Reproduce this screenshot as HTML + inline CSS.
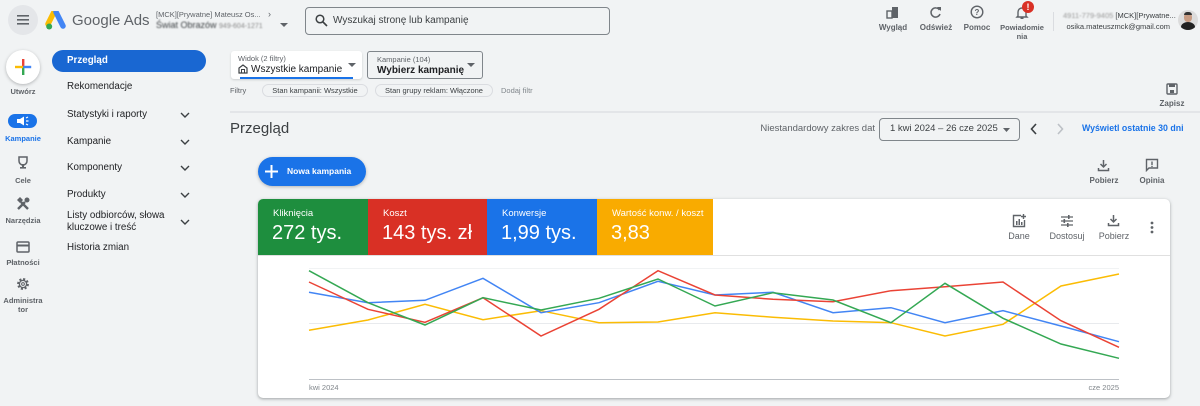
<!DOCTYPE html>
<html><head><meta charset="utf-8">
<style>
*{margin:0;padding:0;box-sizing:border-box}
html,body{width:1200px;height:406px;overflow:hidden;background:#f1f3f4;font-family:"Liberation Sans",Arial,sans-serif;color:#3c4043;position:relative}
.a{position:absolute;white-space:nowrap}
.nav{position:absolute;left:67px;font-size:9.8px;color:#202124;line-height:12px;white-space:nowrap}
.chev{position:absolute;left:180px;width:10px;height:10px}
.rl{position:absolute;left:0;width:46px;text-align:center;font-size:7.5px;font-weight:bold;color:#5f6368;line-height:9px}
.tl{position:absolute;width:50px;text-align:center;font-size:8px;color:#5f6368;line-height:9px;font-weight:bold}
.tile{position:absolute;top:199px;height:56px}
.tile .l{position:absolute;left:15px;top:9px;font-size:9.5px;color:#fff;line-height:11px}
.tile .v{position:absolute;left:14px;top:22px;font-size:20px;color:#fff;line-height:24px;white-space:nowrap}
</style></head><body>

<!-- header -->
<div class="a" style="left:8px;top:5px;width:30px;height:30px;border-radius:50%;background:#e4e6e9"></div>
<svg class="a" style="left:17px;top:15px" width="12" height="10"><rect y="0" width="12" height="1.6" fill="#5f6368"/><rect y="4" width="12" height="1.6" fill="#5f6368"/><rect y="8" width="12" height="1.6" fill="#5f6368"/></svg>
<svg class="a" style="left:45px;top:11px" width="22" height="20" viewBox="0 0 22 20">
<path d="M9 1 L3 13" stroke="#fbbc04" stroke-width="5.5" stroke-linecap="round"/>
<path d="M11 1 L18 15" stroke="#4285f4" stroke-width="5.5" stroke-linecap="round"/>
<circle cx="4.2" cy="15.5" r="3" fill="#34a853"/>
</svg>
<div class="a" style="left:72px;top:11px;font-size:15px;line-height:19px;color:#5f6368">Google Ads</div>
<div class="a" style="left:156px;top:10px;font-size:7.5px;line-height:9px;color:#5f6368">[MCK][Prywatne] Mateusz Os...</div>
<div class="a" style="left:268px;top:9px;font-size:9px;line-height:10px;color:#5f6368">›</div>
<div class="a" style="left:156px;top:20px;font-size:9px;line-height:11px;color:#3c4043;filter:blur(0.7px)">Świat Obrazów <span style="font-size:7px;color:#888">949-604-1271</span></div>
<svg class="a" style="left:280px;top:23px" width="8" height="5"><path d="M0 0 L8 0 L4 4 Z" fill="#5f6368"/></svg>

<div class="a" style="left:305px;top:7px;width:305px;height:28px;border:1px solid #80868b;border-radius:4px"></div>
<svg class="a" style="left:315px;top:14px" width="13" height="13" viewBox="0 0 13 13"><circle cx="5" cy="5" r="3.8" fill="none" stroke="#3c4043" stroke-width="1.5"/><path d="M8 8 L12 12" stroke="#3c4043" stroke-width="1.6"/></svg>
<div class="a" style="left:333px;top:15px;font-size:10px;line-height:12px;color:#3c4043">Wyszukaj stronę lub kampanię</div>

<!-- top right icons -->
<svg class="a" style="left:886px;top:6px" width="13" height="13" viewBox="0 0 13 13"><rect x="1" y="5" width="5" height="7" fill="none" stroke="#5f6368" stroke-width="1.4"/><rect x="6" y="1" width="6" height="11" fill="#5f6368"/></svg>
<div class="tl" style="left:868px;top:23px">Wygląd</div>
<svg class="a" style="left:929px;top:6px" width="13" height="13" viewBox="0 0 13 13"><path d="M10.5 4 A4.6 4.6 0 1 0 11 8" fill="none" stroke="#5f6368" stroke-width="1.5"/><path d="M8 1 L12 1 L12 5 Z" fill="#5f6368"/></svg>
<div class="tl" style="left:911px;top:23px">Odśwież</div>
<svg class="a" style="left:970px;top:5px" width="14" height="14" viewBox="0 0 14 14"><circle cx="7" cy="7" r="5.8" fill="none" stroke="#5f6368" stroke-width="1.4"/><text x="7" y="10" font-size="8" text-anchor="middle" fill="#5f6368" font-family="Liberation Sans" font-weight="bold">?</text></svg>
<div class="tl" style="left:952px;top:23px">Pomoc</div>
<svg class="a" style="left:1015px;top:5px" width="14" height="14" viewBox="0 0 14 14"><path d="M3 11 L3 7 A4 4 0 0 1 11 7 L11 11 L12 12 L2 12 Z" fill="none" stroke="#5f6368" stroke-width="1.4"/><rect x="5.5" y="12.5" width="3" height="1.5" fill="#5f6368"/></svg>
<div class="a" style="left:1022px;top:1px;width:12px;height:12px;border-radius:50%;background:#d93025;color:#fff;font-size:9px;font-weight:bold;text-align:center;line-height:12px">!</div>
<div class="tl" style="left:997px;top:23px;font-size:7.5px;line-height:9px">Powiadomie<br>nia</div>
<div class="a" style="left:1053px;top:12px;width:1px;height:19px;background:#dadce0"></div>
<div class="a" style="left:1063px;top:11px;width:107px;text-align:right;font-size:7.5px;line-height:9px;color:#3c4043"><span style="filter:blur(0.8px);color:#999">4911-779-9405</span> [MCK][Prywatne...</div>
<div class="a" style="left:1063px;top:22px;width:107px;text-align:right;font-size:7.5px;line-height:9px;color:#3c4043">osika.mateuszmck@gmail.com</div>
<div class="a" style="left:1178px;top:10px;width:20px;height:20px;border-radius:50%;background:#dcdcdc;overflow:hidden"><div style="position:absolute;left:3px;top:12px;width:14px;height:10px;border-radius:50% 50% 0 0;background:#222"></div><div style="position:absolute;left:6px;top:3px;width:8px;height:9px;border-radius:45%;background:#c79b82"></div><div style="position:absolute;left:6px;top:2px;width:8px;height:3px;border-radius:4px 4px 0 0;background:#333"></div></div>

<!-- left rail -->
<div class="a" style="left:6px;top:50px;width:34px;height:34px;border-radius:50%;background:#fff;box-shadow:0 1px 3px rgba(60,64,67,.35)"></div>
<svg class="a" style="left:14px;top:58px" width="18" height="18" viewBox="0 0 18 18">
<rect x="8" y="1" width="2.4" height="8" fill="#ea4335"/><rect x="8" y="9" width="2.4" height="8" fill="#34a853"/>
<rect x="1" y="7.8" width="8" height="2.4" fill="#fbbc04"/><rect x="9.2" y="7.8" width="8" height="2.4" fill="#4285f4"/></svg>
<div class="rl" style="top:87px">Utwórz</div>

<div class="a" style="left:8px;top:114px;width:29px;height:14px;border-radius:7px;background:#1a73e8"></div>
<svg class="a" style="left:16px;top:116px" width="13" height="10" viewBox="0 0 13 10"><path d="M1 3 L4 3 L8 0.5 L8 9.5 L4 7 L1 7 Z" fill="#fff"/><path d="M10 2 L12 1 M10 5 L12.5 5 M10 8 L12 9" stroke="#fff" stroke-width="1.2"/></svg>
<div class="rl" style="top:134px;color:#1a73e8">Kampanie</div>
<svg class="a" style="left:17px;top:156px" width="12" height="13" viewBox="0 0 12 13"><path d="M2 1 L10 1 L10 5 A4 4 0 0 1 2 5 Z" fill="none" stroke="#5f6368" stroke-width="1.5"/><rect x="5" y="8" width="2" height="3" fill="#5f6368"/><rect x="3" y="11" width="6" height="1.6" fill="#5f6368"/></svg>
<div class="rl" style="top:176px">Cele</div>
<svg class="a" style="left:16px;top:197px" width="14" height="14" viewBox="0 0 14 14"><path d="M2 12 L9 5" stroke="#5f6368" stroke-width="2.4"/><path d="M12 12 L5 5" stroke="#5f6368" stroke-width="2.4"/><path d="M1 3 L4 0 L7 3 L4 6Z" fill="#5f6368"/><circle cx="11" cy="3" r="2.5" fill="#5f6368"/></svg>
<div class="rl" style="top:216px">Narzędzia</div>
<svg class="a" style="left:16px;top:241px" width="14" height="12" viewBox="0 0 14 12"><rect x="1" y="1" width="12" height="10" rx="1" fill="none" stroke="#5f6368" stroke-width="1.5"/><rect x="1" y="3.5" width="12" height="2" fill="#5f6368"/></svg>
<div class="rl" style="top:258px">Płatności</div>
<svg class="a" style="left:16px;top:277px" width="14" height="14" viewBox="0 0 14 14"><circle cx="7" cy="7" r="4.6" fill="none" stroke="#5f6368" stroke-width="2.6" stroke-dasharray="2 1.6"/><circle cx="7" cy="7" r="3.6" fill="none" stroke="#5f6368" stroke-width="1.3"/><circle cx="7" cy="7" r="1.4" fill="none" stroke="#5f6368" stroke-width="1"/></svg>
<div class="rl" style="top:296px;line-height:9px">Administra<br>tor</div>

<!-- nav -->
<div class="a" style="left:52px;top:50px;width:154px;height:22px;border-radius:11px;background:#1967d2"></div>
<div class="nav" style="top:55px;color:#fff;font-weight:bold">Przegląd</div>
<div class="nav" style="top:81px">Rekomendacje</div>
<div class="nav" style="top:109px">Statystyki i raporty</div>
<div class="nav" style="top:136px">Kampanie</div>
<div class="nav" style="top:162px">Komponenty</div>
<div class="nav" style="top:189px">Produkty</div>
<div class="nav" style="top:210px">Listy odbiorców, słowa</div>
<div class="nav" style="top:222px">kluczowe i treść</div>
<div class="nav" style="top:242px">Historia zmian</div>
<svg class="chev" style="top:110px" viewBox="0 0 10 10"><path d="M1 3 L5 7 L9 3" fill="none" stroke="#3c4043" stroke-width="1.4"/></svg>
<svg class="chev" style="top:137px" viewBox="0 0 10 10"><path d="M1 3 L5 7 L9 3" fill="none" stroke="#3c4043" stroke-width="1.4"/></svg>
<svg class="chev" style="top:163px" viewBox="0 0 10 10"><path d="M1 3 L5 7 L9 3" fill="none" stroke="#3c4043" stroke-width="1.4"/></svg>
<svg class="chev" style="top:190px" viewBox="0 0 10 10"><path d="M1 3 L5 7 L9 3" fill="none" stroke="#3c4043" stroke-width="1.4"/></svg>
<svg class="chev" style="top:217px" viewBox="0 0 10 10"><path d="M1 3 L5 7 L9 3" fill="none" stroke="#3c4043" stroke-width="1.4"/></svg>

<!-- view selectors -->
<div class="a" style="left:231px;top:51px;width:131px;height:28px;background:#fff;border-radius:3px;box-shadow:0 1px 2px rgba(60,64,67,.2)"></div>
<div class="a" style="left:240px;top:77px;width:113px;height:2px;background:#1a73e8"></div>
<div class="a" style="left:238px;top:54px;font-size:7.5px;line-height:9px;color:#5f6368">Widok (2 filtry)</div>
<svg class="a" style="left:238px;top:64px" width="10" height="10" viewBox="0 0 10 10"><path d="M1 9 L1 4 L5 1 L9 4 L9 9 Z" fill="none" stroke="#3c4043" stroke-width="1.2"/><rect x="3.5" y="5.5" width="3" height="3.5" fill="none" stroke="#3c4043" stroke-width="1"/></svg>
<div class="a" style="left:251px;top:64px;font-size:10px;line-height:12px;color:#202124">Wszystkie kampanie</div>
<svg class="a" style="left:348px;top:63px" width="8" height="5"><path d="M0 0 L8 0 L4 4 Z" fill="#5f6368"/></svg>

<div class="a" style="left:367px;top:51px;width:116px;height:28px;border:1px solid #80868b;border-radius:3px"></div>
<div class="a" style="left:377px;top:55px;font-size:7.5px;line-height:9px;color:#5f6368">Kampanie (104)</div>
<div class="a" style="left:377px;top:65px;font-size:10px;line-height:12px;color:#202124;font-weight:bold">Wybierz kampanię</div>
<svg class="a" style="left:467px;top:63px" width="8" height="5"><path d="M0 0 L8 0 L4 4 Z" fill="#5f6368"/></svg>

<div class="a" style="left:230px;top:86px;font-size:7.5px;line-height:9px;color:#5f6368">Filtry</div>
<div class="a" style="left:262px;top:84px;width:106px;height:13px;border:1px solid #dadce0;border-radius:7px;font-size:7.5px;line-height:11px;text-align:center;color:#3c4043">Stan kampanii: Wszystkie</div>
<div class="a" style="left:375px;top:84px;width:118px;height:13px;border:1px solid #dadce0;border-radius:7px;font-size:7.5px;line-height:11px;text-align:center;color:#3c4043">Stan grupy reklam: Włączone</div>
<div class="a" style="left:501px;top:86px;font-size:7.5px;line-height:9px;color:#80868b">Dodaj filtr</div>

<svg class="a" style="left:1166px;top:83px" width="12" height="12" viewBox="0 0 12 12"><rect x="1" y="1" width="10" height="10" rx="1" fill="none" stroke="#5f6368" stroke-width="1.4"/><rect x="3" y="1" width="6" height="3" fill="#5f6368"/><rect x="4" y="7" width="4" height="3" fill="#5f6368"/></svg>
<div class="tl" style="left:1147px;top:99px">Zapisz</div>

<div class="a" style="left:230px;top:111px;width:970px;height:2px;background:#e3e5e8"></div>

<div class="a" style="left:230px;top:120px;font-size:15px;line-height:18px;color:#3c4043">Przegląd</div>

<div class="a" style="left:740px;top:123px;width:135px;text-align:right;font-size:9.5px;line-height:11px;color:#5f6368">Niestandardowy zakres dat</div>
<div class="a" style="left:879px;top:118px;width:141px;height:23px;border:1px solid #80868b;border-radius:4px"></div>
<div class="a" style="left:890px;top:123px;font-size:9.5px;line-height:11px;color:#3c4043">1 kwi 2024 – 26 cze 2025</div>
<svg class="a" style="left:1003px;top:128px" width="7" height="4"><path d="M0 0 L7 0 L3.5 4 Z" fill="#5f6368"/></svg>
<svg class="a" style="left:1030px;top:123px" width="8" height="12"><path d="M6 1 L1.5 6 L6 11" fill="none" stroke="#3c4043" stroke-width="1.6"/></svg>
<svg class="a" style="left:1056px;top:123px" width="8" height="12"><path d="M2 1 L6.5 6 L2 11" fill="none" stroke="#bdc1c6" stroke-width="1.6"/></svg>
<div class="a" style="left:1082px;top:123px;font-size:8.8px;line-height:11px;color:#1a73e8;font-weight:bold">Wyświetl ostatnie 30 dni</div>

<!-- new campaign -->
<div class="a" style="left:258px;top:157px;width:108px;height:29px;border-radius:15px;background:#1a73e8;box-shadow:0 1px 3px rgba(60,64,67,.35)"></div>
<svg class="a" style="left:265px;top:165px" width="13" height="13"><rect x="5.5" y="0" width="2" height="13" fill="#fff"/><rect x="0" y="5.5" width="13" height="2" fill="#fff"/></svg>
<div class="a" style="left:287px;top:166px;font-size:8.5px;line-height:10px;color:#fff;font-weight:bold">Nowa kampania</div>

<svg class="a" style="left:1097px;top:159px" width="13" height="13" viewBox="0 0 13 13"><path d="M6.5 1 L6.5 8 M3.5 5 L6.5 8 L9.5 5" fill="none" stroke="#5f6368" stroke-width="1.5"/><path d="M1.5 9 L1.5 11.5 L11.5 11.5 L11.5 9" fill="none" stroke="#5f6368" stroke-width="1.5"/></svg>
<div class="tl" style="left:1079px;top:176px">Pobierz</div>
<svg class="a" style="left:1145px;top:158px" width="14" height="14" viewBox="0 0 14 14"><path d="M1.5 1.5 L12.5 1.5 L12.5 10 L4 10 L1.5 12.5 Z" fill="none" stroke="#5f6368" stroke-width="1.4"/><rect x="6.3" y="3.5" width="1.4" height="3.5" fill="#5f6368"/><rect x="6.3" y="7.8" width="1.4" height="1.3" fill="#5f6368"/></svg>
<div class="tl" style="left:1127px;top:176px">Opinia</div>

<!-- card -->
<div class="a" style="left:258px;top:199px;width:912px;height:199px;background:#fff;border-radius:5px;box-shadow:0 1px 2px rgba(60,64,67,.3),0 1px 3px 1px rgba(60,64,67,.12);overflow:hidden">
</div>
<div class="tile" style="left:258px;width:110px;background:#1e8e3e;border-top-left-radius:5px"><div class="l">Kliknięcia</div><div class="v">272 tys.</div></div>
<div class="tile" style="left:368px;width:119px;background:#d93025"><div class="l">Koszt</div><div class="v">143 tys. zł</div></div>
<div class="tile" style="left:487px;width:110px;background:#1a73e8"><div class="l">Konwersje</div><div class="v">1,99 tys.</div></div>
<div class="tile" style="left:597px;width:116px;background:#f9ab00"><div class="l">Wartość konw. / koszt</div><div class="v">3,83</div></div>
<div class="a" style="left:258px;top:255px;width:912px;height:1px;background:#e0e0e0"></div>

<svg class="a" style="left:1012px;top:214px" width="14" height="14" viewBox="0 0 14 14"><path d="M9 1.5 L1.5 1.5 L1.5 12.5 L12.5 12.5 L12.5 6" fill="none" stroke="#5f6368" stroke-width="1.4"/><rect x="4" y="7" width="1.5" height="4" fill="#5f6368"/><rect x="6.5" y="5" width="1.5" height="6" fill="#5f6368"/><rect x="9" y="8" width="1.5" height="3" fill="#5f6368"/><path d="M11.5 0 L11.5 5 M9 2.5 L14 2.5" stroke="#5f6368" stroke-width="1.4"/></svg>
<div class="a" style="left:994px;top:231px;width:50px;text-align:center;font-size:9px;line-height:11px;color:#5f6368">Dane</div>
<svg class="a" style="left:1060px;top:215px" width="14" height="12" viewBox="0 0 14 12"><path d="M1 2 L13 2 M1 6 L13 6 M1 10 L13 10" stroke="#5f6368" stroke-width="1.3"/><rect x="8" y="0" width="1.6" height="4" fill="#5f6368"/><rect x="3.5" y="4" width="1.6" height="4" fill="#5f6368"/><rect x="7" y="8" width="1.6" height="4" fill="#5f6368"/></svg>
<div class="a" style="left:1042px;top:231px;width:50px;text-align:center;font-size:9px;line-height:11px;color:#5f6368">Dostosuj</div>
<svg class="a" style="left:1107px;top:214px" width="13" height="13" viewBox="0 0 13 13"><path d="M6.5 1 L6.5 8 M3.5 5 L6.5 8 L9.5 5" fill="none" stroke="#5f6368" stroke-width="1.5"/><path d="M1.5 9 L1.5 11.5 L11.5 11.5 L11.5 9" fill="none" stroke="#5f6368" stroke-width="1.5"/></svg>
<div class="a" style="left:1089px;top:231px;width:50px;text-align:center;font-size:9px;line-height:11px;color:#5f6368">Pobierz</div>
<svg class="a" style="left:1150px;top:221px" width="4" height="13"><circle cx="2" cy="2" r="1.4" fill="#5f6368"/><circle cx="2" cy="6.5" r="1.4" fill="#5f6368"/><circle cx="2" cy="11" r="1.4" fill="#5f6368"/></svg>

<!-- chart -->
<svg class="a" style="left:0;top:0" width="1200" height="406">
<line x1="309" y1="268.5" x2="1119" y2="268.5" stroke="#f1f3f4" stroke-width="1"/>
<line x1="309" y1="323.5" x2="1119" y2="323.5" stroke="#e8eaed" stroke-width="1"/>
<line x1="309" y1="379.5" x2="1119" y2="379.5" stroke="#bdc1c6" stroke-width="1"/>
<polyline fill="none" stroke="#fbbc04" stroke-width="1.5" points="309,330.3 368,320 425,304.3 483,319.7 541,310.7 599,322.7 658,322 715,312.7 773,317.3 833,321 891,322.7 945,336 1003,324.3 1061,286 1119,274"/>
<polyline fill="none" stroke="#4285f4" stroke-width="1.5" points="309,292.3 368,302.7 425,300.3 483,278.3 541,312.7 599,302.7 658,281.3 715,295 773,292.3 833,312.7 891,307.7 945,322.7 1003,310.7 1061,326 1119,341.7"/>
<polyline fill="none" stroke="#ea4335" stroke-width="1.5" points="309,282 368,309.3 425,322.3 483,297.7 541,336 599,309.3 658,270.7 715,295 773,299.3 833,301.7 891,290.7 945,286.7 1003,282 1061,320.7 1119,347.3"/>
<polyline fill="none" stroke="#34a853" stroke-width="1.5" points="309,270.7 368,302.7 425,325 483,297.7 541,310 599,298.3 658,279 715,306 773,292.7 833,300 891,322.7 945,283.3 1003,318.3 1061,344 1119,358.3"/>
<text x="309" y="390" font-size="7.5" fill="#80868b" font-family="Liberation Sans, Arial, sans-serif">kwi 2024</text>
<text x="1119" y="390" font-size="7.5" fill="#80868b" text-anchor="end" font-family="Liberation Sans, Arial, sans-serif">cze 2025</text>
</svg>

</body></html>
